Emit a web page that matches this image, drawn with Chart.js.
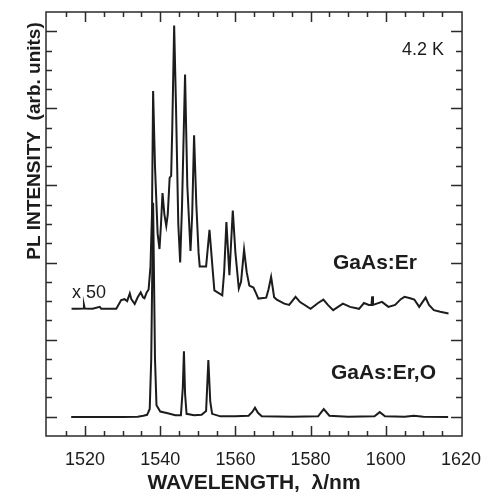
<!DOCTYPE html>
<html>
<head>
<meta charset="utf-8">
<script src="https://cdn.jsdelivr.net/npm/chart.js@4/dist/chart.umd.min.js"></script>
<style>
  html, body { margin: 0; padding: 0; background: #fff; }
  #wrap { width: 494px; height: 496px; }
</style>
</head>
<body>
<div id="wrap"><canvas id="plChart" width="494" height="496"></canvas></div>
<script>
// GaAs:Er spectrum (shown x50, offset upward)
const erWavelength = [
  1516.4, 1518, 1519.5, 1519.7, 1519.9, 1522, 1523.9, 1524.3, 1528.3, 1529.6,
  1530.5, 1531.2, 1531.9, 1532.3, 1533.2, 1534.0, 1534.8, 1535.4, 1535.8, 1536.4,
  1536.9, 1537.4, 1537.8, 1538.1, 1538.6, 1539.3, 1539.8, 1540.2, 1540.6, 1541.1,
  1541.6, 1542.0, 1542.5, 1542.9, 1543.2, 1543.7, 1544.2, 1544.8, 1545.3, 1545.8,
  1546.6, 1547.2, 1548.05, 1548.5, 1549.0, 1549.6, 1550.2, 1550.5, 1552.2, 1553.1,
  1554.0, 1554.4, 1556.5, 1557.0, 1557.6, 1558.4, 1559.3, 1560.0, 1560.9, 1561.5,
  1562.3, 1563.0, 1563.7, 1564.8, 1565.5, 1566.1, 1568.2, 1568.8, 1569.5, 1570.3,
  1571, 1573, 1574.3, 1576, 1577.2, 1580, 1582, 1583.4, 1584.6, 1586,
  1588.6, 1590.5, 1592.9, 1594.2, 1595.5, 1596.2, 1596.4, 1596.6, 1599, 1600.7,
  1602.5, 1604, 1605, 1606.5, 1607.6, 1608.9, 1610.6, 1611.5, 1612.8, 1614.5,
  1616.7
];
const erIntensity = [
  6.6, 6.6, 6.62, 6.8, 6.62, 6.6, 6.7, 6.6, 6.6, 7.05,
  7.1, 7.0, 7.4, 7.1, 6.85, 7.2, 7.45, 7.2, 7.15, 7.45,
  7.6, 8.8, 11.5, 17.9, 14, 10.5, 9.7, 11, 12.6, 11.5,
  10.9, 11.5, 13.4, 13.5, 16, 21.3, 17, 11, 9.0, 12,
  18.75, 13, 9.6, 11.5, 15.6, 12, 9.5, 8.8, 8.8, 10.7,
  8.5, 7.56, 7.3, 8.5, 11.1, 8.34, 11.7, 9.5, 7.65, 8,
  9.67, 8.5, 7.8, 7.7, 7.4, 7.13, 7.18, 7.6, 8.25, 7.2,
  7.08, 6.87, 6.8, 7.22, 6.95, 6.6, 6.9, 7.08, 6.8, 6.53,
  6.87, 6.7, 6.6, 6.9, 6.8, 6.8, 7.25, 6.8, 6.96, 6.7,
  6.8, 7.1, 7.22, 7.15, 7.08, 6.7, 7.18, 6.8, 6.53, 6.45,
  6.36
];

// GaAs:Er,O spectrum
const eroWavelength = [
  1516.3, 1520, 1525, 1530, 1534, 1535.5, 1536.5, 1537.2, 1537.6, 1538.1,
  1538.6, 1539.0, 1540, 1542, 1544, 1545.5, 1546.0, 1546.3, 1546.6, 1547.0,
  1549, 1551, 1552.2, 1552.8, 1553.3, 1553.8, 1556, 1560, 1563.5, 1564.5,
  1565.2, 1566, 1567, 1575, 1582, 1583.5, 1585, 1590, 1597, 1598.4,
  1599.8, 1605, 1607.5, 1610, 1616.6
];
const eroIntensity = [
  0.98, 0.98, 0.99, 0.98, 1.0, 1.05, 1.1, 1.4, 4, 12.1,
  4, 1.6, 1.27, 1.18, 1.08, 1.08, 2.5, 4.4, 2.2, 1.15,
  1.08, 1.1, 1.3, 3.94, 1.8, 1.15, 1.02, 1.02, 1.05, 1.25,
  1.47, 1.2, 1.03, 1.0, 1.02, 1.4, 1.05, 1.0, 1.02, 1.24,
  1.02, 1.0, 1.05, 1.0, 0.98
];

const xTickLabels = [1520, 1540, 1560, 1580, 1600, 1620];

const FONT = "Arial, 'Liberation Sans', Helvetica, sans-serif";
const INK = "#1c1c1c";

function toPoints(xs, ys) {
  return xs.map((v, i) => ({ x: v, y: ys[i] }));
}

// box + inward ticks on all four sides, and the free text
const frame = {
  id: "frame",
  afterDraw(chart) {
    const { ctx, chartArea: a, scales: { x, y } } = chart;
    ctx.save();
    ctx.strokeStyle = "#2a2a2a";
    ctx.lineWidth = 1.5;
    ctx.strokeRect(a.left, a.top, a.right - a.left, a.bottom - a.top);

    ctx.beginPath();
    for (let v = 1515; v < 1620; v += 5) {
      const px = Math.round(x.getPixelForValue(v)) + 0.5;
      const len = v % 20 === 0 ? 10 : 5;
      ctx.moveTo(px, a.bottom); ctx.lineTo(px, a.bottom - len);
      ctx.moveTo(px, a.top); ctx.lineTo(px, a.top + len);
    }
    for (let v = 1; v < 22; v++) {
      const py = Math.round(y.getPixelForValue(v)) + 0.5;
      const len = (v - 1) % 4 === 0 ? 11 : 6;
      ctx.moveTo(a.left, py); ctx.lineTo(a.left + len, py);
      ctx.moveTo(a.right, py); ctx.lineTo(a.right - len, py);
    }
    ctx.stroke();

    ctx.fillStyle = INK;
    ctx.textBaseline = "alphabetic";
    ctx.textAlign = "left";
    ctx.font = "18px " + FONT;
    ctx.fillText("4.2 K", 402, 55);
    ctx.fillText("x 50", 72, 298);
    ctx.font = "bold 21px " + FONT;
    ctx.fillText("GaAs:Er", 333, 269);
    ctx.fillText("GaAs:Er,O", 331, 378.5);

    // y axis title
    ctx.translate(35, 141);
    ctx.rotate(-Math.PI / 2);
    ctx.textAlign = "center";
    ctx.textBaseline = "middle";
    ctx.font = "bold 19px " + FONT;
    ctx.fillText("PL INTENSITY  (arb. units)", 0, 0);
    ctx.restore();
  }
};

new Chart(document.getElementById("plChart"), {
  type: "line",
  data: {
    datasets: [
      {
        label: "GaAs:Er",
        data: toPoints(erWavelength, erIntensity),
        borderColor: INK,
        borderWidth: 2,
        pointRadius: 0,
        tension: 0
      },
      {
        label: "GaAs:Er,O",
        data: toPoints(eroWavelength, eroIntensity),
        borderColor: INK,
        borderWidth: 2,
        pointRadius: 0,
        tension: 0
      }
    ]
  },
  options: {
    responsive: false,
    devicePixelRatio: 1,
    animation: false,
    layout: { padding: { top: 12, right: 22, left: 0, bottom: 0 } },
    plugins: { legend: { display: false }, tooltip: { enabled: false } },
    scales: {
      x: {
        type: "linear",
        min: 1509.6,
        max: 1620.3,
        afterFit: (s) => { s.height = 60; },
        afterBuildTicks: (s) => { s.ticks = xTickLabels.map((v) => ({ value: v })); },
        grid: { display: false, drawTicks: false },
        border: { display: false },
        ticks: {
          padding: 13,
          color: INK,
          font: { family: FONT, size: 18 },
          maxRotation: 0,
          callback: (v) => String(v)
        },
        title: {
          display: true,
          text: "WAVELENGTH,  λ/nm",
          color: INK,
          font: { family: FONT, size: 21, weight: "bold" },
          padding: { top: 0, bottom: 0 }
        }
      },
      y: {
        min: 0,
        max: 22,
        afterFit: (s) => { s.width = 46; },
        grid: { display: false, drawTicks: false },
        border: { display: false },
        ticks: { display: false }
      }
    }
  },
  plugins: [frame]
});
</script>
</body>
</html>
